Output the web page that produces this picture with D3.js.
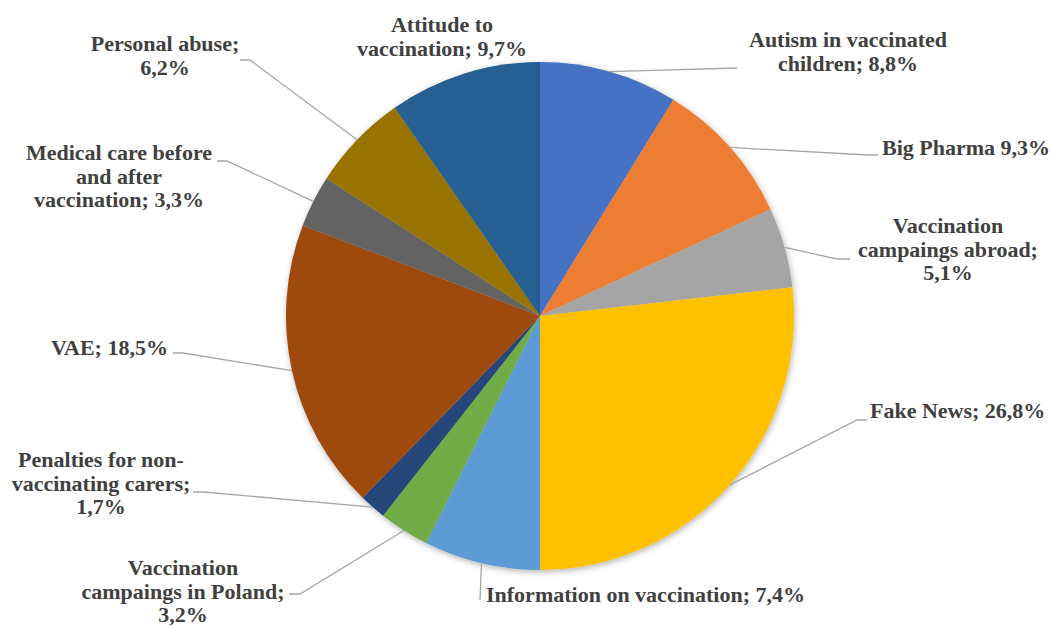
<!DOCTYPE html>
<html>
<head>
<meta charset="utf-8">
<script src="https://cdn.jsdelivr.net/npm/d3@7/dist/d3.min.js"></script>
<style>
  body { margin: 0; background: #fff; }
  .lbl { font-family: "Liberation Serif", "Times New Roman", serif; font-weight: bold; font-size: 22px; fill: #404040; }
</style>
</head>
<body>
<script>
// data
const categories = ["Autism in vaccinated children", "Big Pharma", "Vaccination campaings abroad",
  "Fake News", "Information on vaccination", "Vaccination campaings in Poland",
  "Penalties for non-vaccinating carers", "VAE", "Medical care before and after vaccination",
  "Personal abuse", "Attitude to vaccination"];
const shares = [8.8, 9.3, 5.1, 26.8, 7.4, 3.2, 1.7, 18.5, 3.3, 6.2, 9.7];
const colors = ["#4472C4", "#ED7D31", "#A5A5A5", "#FFC000", "#5B9BD5", "#70AD47",
  "#264478", "#9E480E", "#636363", "#997300", "#255E91"];

// how each label wraps; {v} is the value
const labelLines = [
  ["Autism in vaccinated", "children; {v}"],
  ["Big Pharma {v}"],
  ["Vaccination", "campaings abroad;", "{v}"],
  ["Fake News; {v}"],
  ["Information on vaccination; {v}"],
  ["Vaccination", "campaings in Poland;", "{v}"],
  ["Penalties for non-", "vaccinating carers;", "{v}"],
  ["VAE; {v}"],
  ["Medical care before", "and after", "vaccination; {v}"],
  ["Personal abuse;", "{v}"],
  ["Attitude to", "vaccination; {v}"]
];

// label placement (first baseline) and leader line points after the slice edge
const labelPos = [
  {x: 848, y: 47,  anchor: "middle", leader: [[737, 68]]},
  {x: 882, y: 155, anchor: "start",  leader: [[868, 155], [878, 155]]},
  {x: 948, y: 233, anchor: "middle", leader: [[837, 259], [850, 259]]},
  {x: 870, y: 418, anchor: "start",  leader: [[857, 420], [867, 420]]},
  {x: 486, y: 602, anchor: "start",  leader: [[480, 600]]},
  {x: 183, y: 575, anchor: "middle", leader: [[300, 594], [289, 594]]},
  {x: 101, y: 467, anchor: "middle", leader: [[203, 492], [193, 492]]},
  {x: 51,  y: 355, anchor: "start",  leader: [[183, 353], [173, 353]]},
  {x: 119, y: 160, anchor: "middle", leader: [[227, 161], [217, 161]]},
  {x: 165, y: 51,  anchor: "middle", leader: [[250, 60], [240, 60]]},
  {x: 442, y: 32,  anchor: "middle", leader: null}
];

const width = 1051, height = 628;
const cx = 540, cy = 316, radius = 254;
const lineH = 23.5;

const svg = d3.select("body").append("svg")
    .attr("width", width)
    .attr("height", height);

const defs = svg.append("defs");
defs.append("filter")
    .attr("id", "shadow")
    .attr("x", "-10%").attr("y", "-10%")
    .attr("width", "120%").attr("height", "120%")
  .append("feDropShadow")
    .attr("dx", 1).attr("dy", 2)
    .attr("stdDeviation", 3)
    .attr("flood-color", "#000")
    .attr("flood-opacity", 0.3);

const pie = d3.pie().sort(null).value(d => d);
const arcs = pie(shares);

const arc = d3.arc().innerRadius(0).outerRadius(radius);
const edge = d3.arc().innerRadius(radius).outerRadius(radius);

const g = svg.append("g")
    .attr("transform", "translate(" + cx + "," + cy + ")");

g.append("g")
    .attr("filter", "url(#shadow)")
  .selectAll("path")
  .data(arcs)
  .enter().append("path")
    .attr("d", arc)
    .attr("fill", (d, i) => colors[i]);

// leader lines
const line = d3.line();
svg.append("g")
  .selectAll("path")
  .data(arcs.filter((d, i) => labelPos[i].leader))
  .enter().append("path")
    .attr("d", d => {
      const p = edge.centroid(d);
      const pts = [[p[0] + cx, p[1] + cy]].concat(labelPos[d.index].leader);
      return line(pts);
    })
    .attr("fill", "none")
    .attr("stroke", "#a6a6a6")
    .attr("stroke-width", 1.3);

// labels
const fmt = v => v.toFixed(1).replace(".", ",") + "%";
const labels = svg.append("g")
  .selectAll("text")
  .data(arcs)
  .enter().append("text")
    .attr("class", "lbl")
    .attr("x", (d, i) => labelPos[i].x)
    .attr("y", (d, i) => labelPos[i].y)
    .attr("text-anchor", (d, i) => labelPos[i].anchor);

labels.selectAll("tspan")
  .data(d => labelLines[d.index].map(s => s.replace("{v}", fmt(d.data))))
  .enter().append("tspan")
    .attr("x", function() { return d3.select(this.parentNode).attr("x"); })
    .attr("dy", (s, j) => j === 0 ? 0 : lineH)
    .text(s => s);
</script>
</body>
</html>
